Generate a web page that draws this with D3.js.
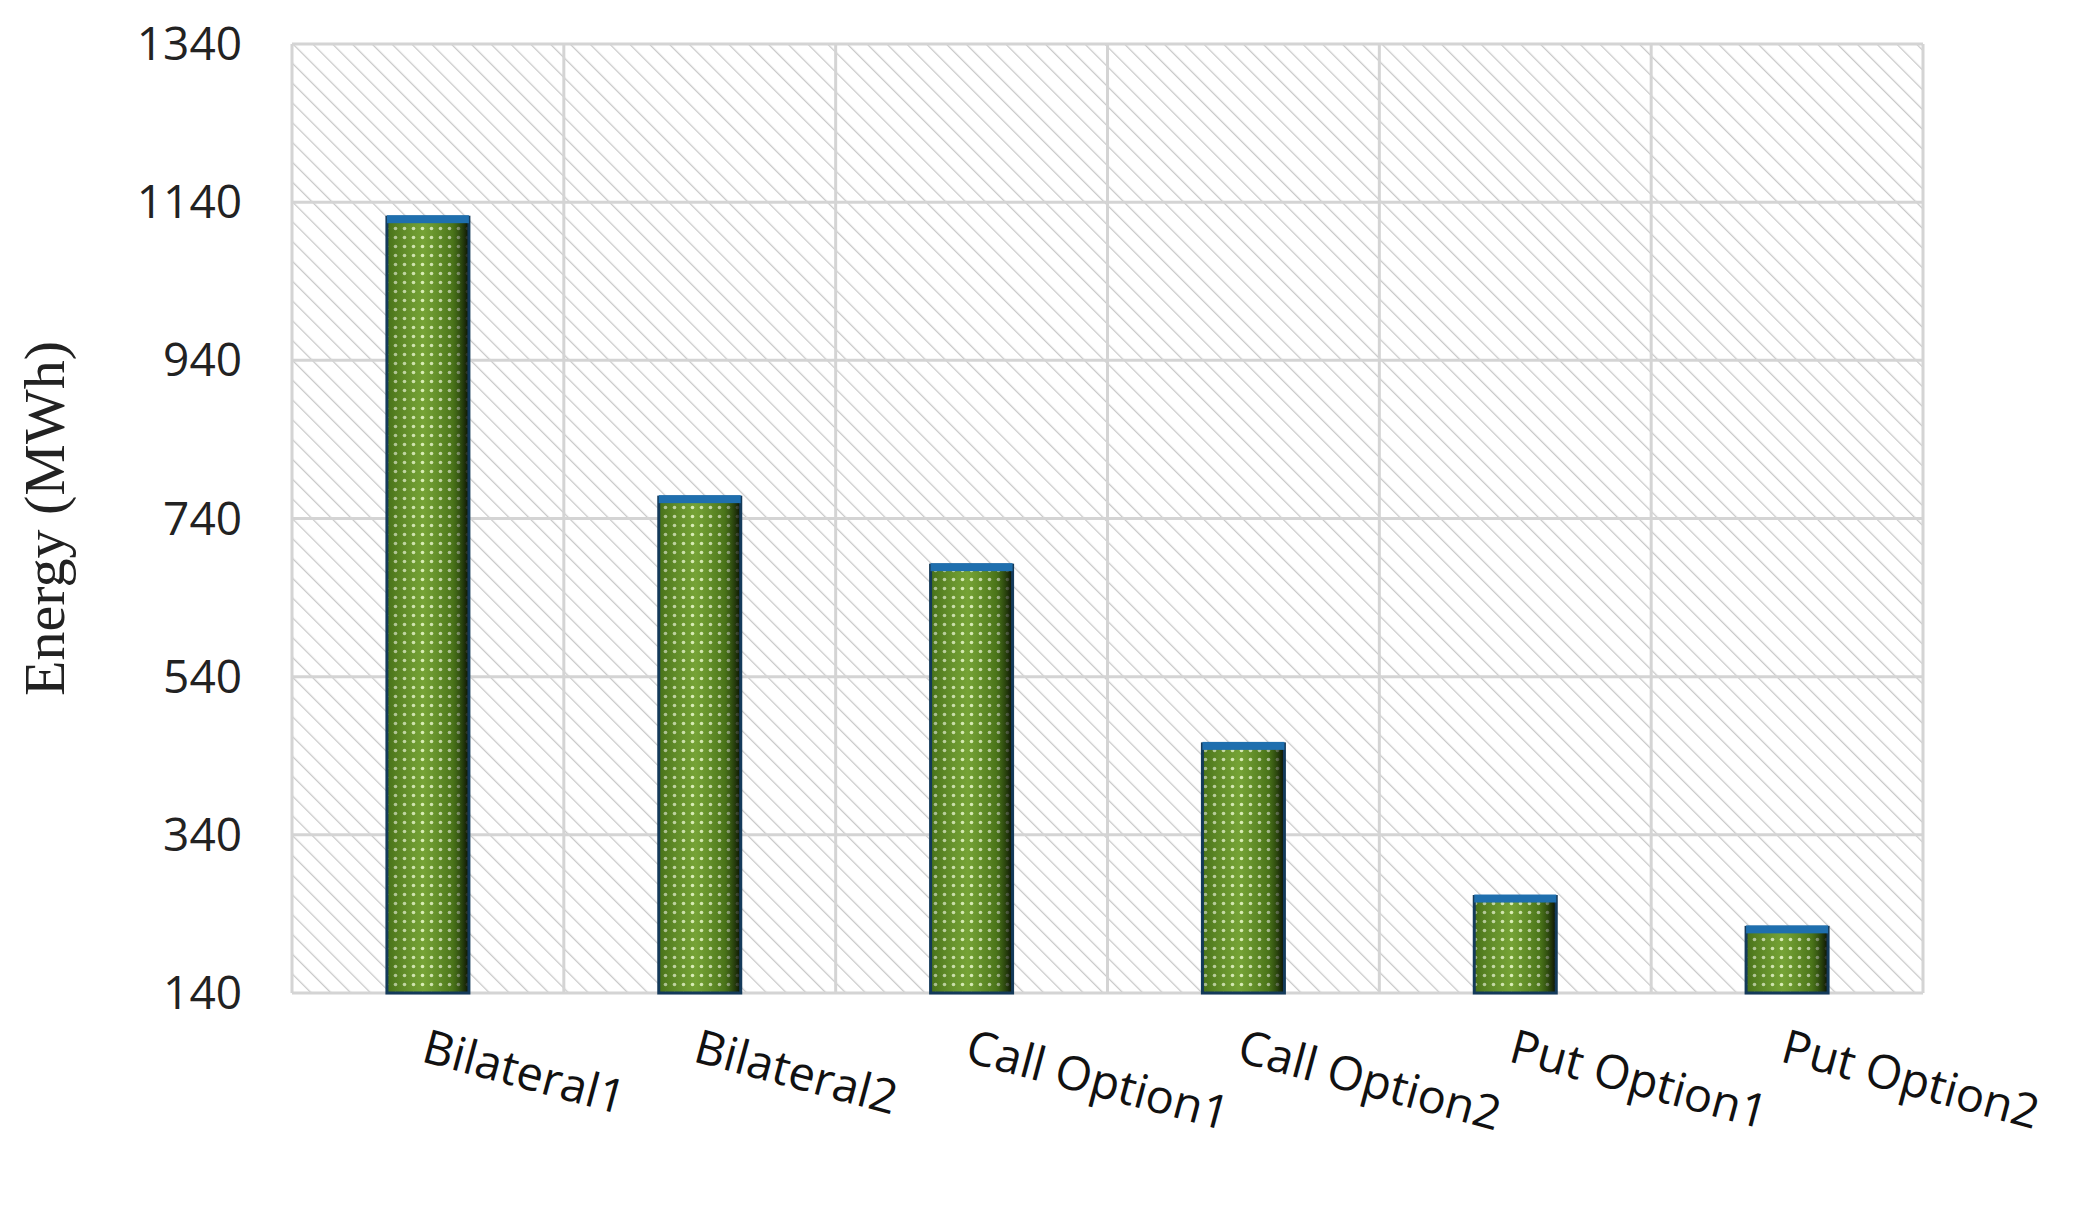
<!DOCTYPE html>
<html><head><meta charset="utf-8">
<script src="https://cdn.jsdelivr.net/npm/d3@7"></script>
<style>body{margin:0;background:#fff}</style></head>
<body><div id="chart"></div>
<script>
var categories = ["Bilateral1", "Bilateral2", "Call Option1", "Call Option2", "Put Option1", "Put Option2"];
var energy = [1121, 767, 681, 455, 262, 223];
var yTicks = [140, 340, 540, 740, 940, 1140, 1340];

var svgWidth = 2092, svgHeight = 1217;
var margin = { top: 44, right: 169, bottom: 224, left: 292 };
var width = svgWidth - margin.left - margin.right;
var height = svgHeight - margin.top - margin.bottom;

var svg = d3.select("#chart").append("svg")
    .attr("width", svgWidth).attr("height", svgHeight);

var defs = svg.append("defs");
// background hatch
var hatch = defs.append("pattern").attr("id", "hatch")
    .attr("patternUnits", "userSpaceOnUse").attr("width", 14).attr("height", 14)
    .attr("patternTransform", "rotate(-45)");
hatch.append("rect").attr("width", 14).attr("height", 14).attr("fill", "#fff");
hatch.append("line").attr("x1", 0).attr("y1", 0).attr("x2", 0).attr("y2", 14)
    .attr("stroke", "#c8c8c8").attr("stroke-width", 2.5);

// bar dot pattern
var dots = defs.append("pattern").attr("id", "dots")
    .attr("patternUnits", "userSpaceOnUse").attr("width", 9).attr("height", 9);
dots.append("rect").attr("width", 9).attr("height", 9).attr("fill", "#5f8e22");
dots.append("circle").attr("cx", 4.5).attr("cy", 4.5).attr("r", 1.8).attr("fill", "#e8f5d0");

var shade = defs.append("linearGradient").attr("id", "shade");
shade.append("stop").attr("offset", "0%").attr("stop-color", "#1b3a05").attr("stop-opacity", 0.35);
shade.append("stop").attr("offset", "45%").attr("stop-color", "#b8e070").attr("stop-opacity", 0.25);
shade.append("stop").attr("offset", "80%").attr("stop-color", "#1b3a05").attr("stop-opacity", 0.3);
shade.append("stop").attr("offset", "100%").attr("stop-color", "#000").attr("stop-opacity", 0.9);

var g = svg.append("g").attr("transform", `translate(${margin.left},${margin.top})`);

var x = d3.scaleBand().domain(categories).range([0, width]).paddingInner(0).paddingOuter(0);
var y = d3.scaleLinear().domain([140, 1340]).range([height, 0]);

g.append("rect").attr("width", width).attr("height", height).attr("fill", "url(#hatch)");

// gridlines
g.selectAll(".hg").data(yTicks).enter().append("line")
    .attr("x1", 0).attr("x2", width).attr("y1", d => y(d)).attr("y2", d => y(d))
    .attr("stroke", "#d4d4d4").attr("stroke-width", 3);
g.selectAll(".vg").data(d3.range(categories.length + 1)).enter().append("line")
    .attr("y1", 0).attr("y2", height)
    .attr("x1", i => i * x.bandwidth()).attr("x2", i => i * x.bandwidth())
    .attr("stroke", "#d4d4d4").attr("stroke-width", 3);

// y labels
g.selectAll(".yl").data(yTicks).enter().append("text")
    .attr("x", -50).attr("y", d => y(d)).attr("dy", "0.35em")
    .attr("text-anchor", "end").attr("font-family", "Open Sans, sans-serif")
    .attr("font-size", 46).attr("fill", "#222").text(d => d);

g.append("text").attr("transform", `translate(${-228},${height / 2}) rotate(-90)`)
    .attr("text-anchor", "middle").attr("font-family", "Liberation Serif, serif")
    .attr("font-size", 58).attr("fill", "#222").text("Energy (MWh)");

var bw = 82;
var bars = g.selectAll(".bar").data(energy).enter().append("g");
bars.append("rect")
    .attr("x", (d, i) => x(categories[i]) + x.bandwidth() / 2 - bw / 2)
    .attr("y", d => y(d)).attr("width", bw).attr("height", d => height - y(d))
    .attr("fill", "url(#dots)");
bars.append("rect")
    .attr("x", (d, i) => x(categories[i]) + x.bandwidth() / 2 - bw / 2)
    .attr("y", d => y(d)).attr("width", bw).attr("height", d => height - y(d))
    .attr("fill", "url(#shade)").attr("stroke", "#143a5a").attr("stroke-width", 3);
bars.append("rect")
    .attr("x", (d, i) => x(categories[i]) + x.bandwidth() / 2 - bw / 2)
    .attr("y", d => y(d) - 2).attr("width", bw).attr("height", 8)
    .attr("fill", "#1f6fae");

// category labels
g.selectAll(".xl").data(categories).enter().append("text")
    .attr("transform", d => `translate(${x(d) + x.bandwidth() / 2 - 8},${height + 68}) rotate(15)`)
    .attr("font-family", "Open Sans, sans-serif").attr("font-size", 47)
    .attr("fill", "#111").text(d => d);
</script></body></html>
